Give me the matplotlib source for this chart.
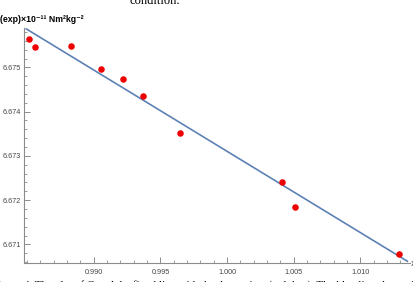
import numpy as np
import matplotlib.pyplot as plt
from matplotlib.ticker import MultipleLocator, FormatStrFormatter

# data
x_vals = [0.98513, 0.98563, 0.98827, 0.99058, 0.99223, 0.99371, 0.99650, 1.00413, 1.00510, 1.01288]
g_vals = [6.67564, 6.67545, 6.67549, 6.67496, 6.67473, 6.67436, 6.67351, 6.67241, 6.67184, 6.67079]
fit_x = [0.98494, 1.01352]
fit_y = [6.67587, 6.67062]

x_ticks = [0.990, 0.995, 1.000, 1.005, 1.010]
y_ticks = [6.671, 6.672, 6.673, 6.674, 6.675]

W, H = 414, 282
fig = plt.figure(figsize=(W / 100, H / 100), dpi=100)
ax = fig.add_axes([24 / W, 1 - 263 / H, 386 / W, 235 / H])

axis_col = '#8c8c8c'
ax.plot(fit_x, fit_y, color='#5e81b5', lw=1.2, zorder=2)
ax.scatter(x_vals, g_vals, s=22, color='#ee0000', zorder=3, linewidths=0)

ax.set_xlim(0.98477, 1.01372)
ax.set_ylim(6.67058, 6.67589)

for s in ['top', 'right']:
    ax.spines[s].set_visible(False)
for s in ['left', 'bottom']:
    ax.spines[s].set_color(axis_col)
    ax.spines[s].set_linewidth(0.8)

ax.set_xticks(x_ticks)
ax.set_yticks(y_ticks)
ax.xaxis.set_major_formatter(FormatStrFormatter('%.3f'))
ax.yaxis.set_major_formatter(FormatStrFormatter('%.3f'))
ax.xaxis.set_minor_locator(MultipleLocator(0.001))
ax.yaxis.set_minor_locator(MultipleLocator(0.0002))
ax.tick_params(which='major', direction='in', length=4, width=0.7, color=axis_col,
               labelcolor='#444444', pad=2)
ax.tick_params(which='minor', direction='in', length=2, width=0.6, color=axis_col)
for lab in ax.get_yticklabels() + ax.get_xticklabels():
    lab.set_family('Liberation Sans')
ax.tick_params(axis='y', labelsize=5.2)
ax.tick_params(axis='x', labelsize=5.2, pad=4)

# axis captions
fig.text(0, 1 - 20 / H, '(exp)×10⁻¹¹ Nm²kg⁻²', fontsize=6.3, fontweight='bold',
         family=['Liberation Sans', 'DejaVu Sans'], ha='left', va='center')
fig.text(411 / W, 1 - 264 / H, 'x', fontsize=6, ha='left', va='center', color='#444444')

# fragments of the surrounding page text
fig.text(130 / W, 1 - 1 / H, 'condition.', fontsize=9, family='Liberation Serif',
         ha='left', va='center')
fig.text(-8 / W, 1 - 285 / H,
         'Figure 4. The plot of G and the fitted line with the data points (red dots). '
         'The blue line shows the linear fit of the data (4',
         fontsize=8, family='Liberation Serif', ha='left', va='center')

fig.savefig('out.png', dpi=100)
